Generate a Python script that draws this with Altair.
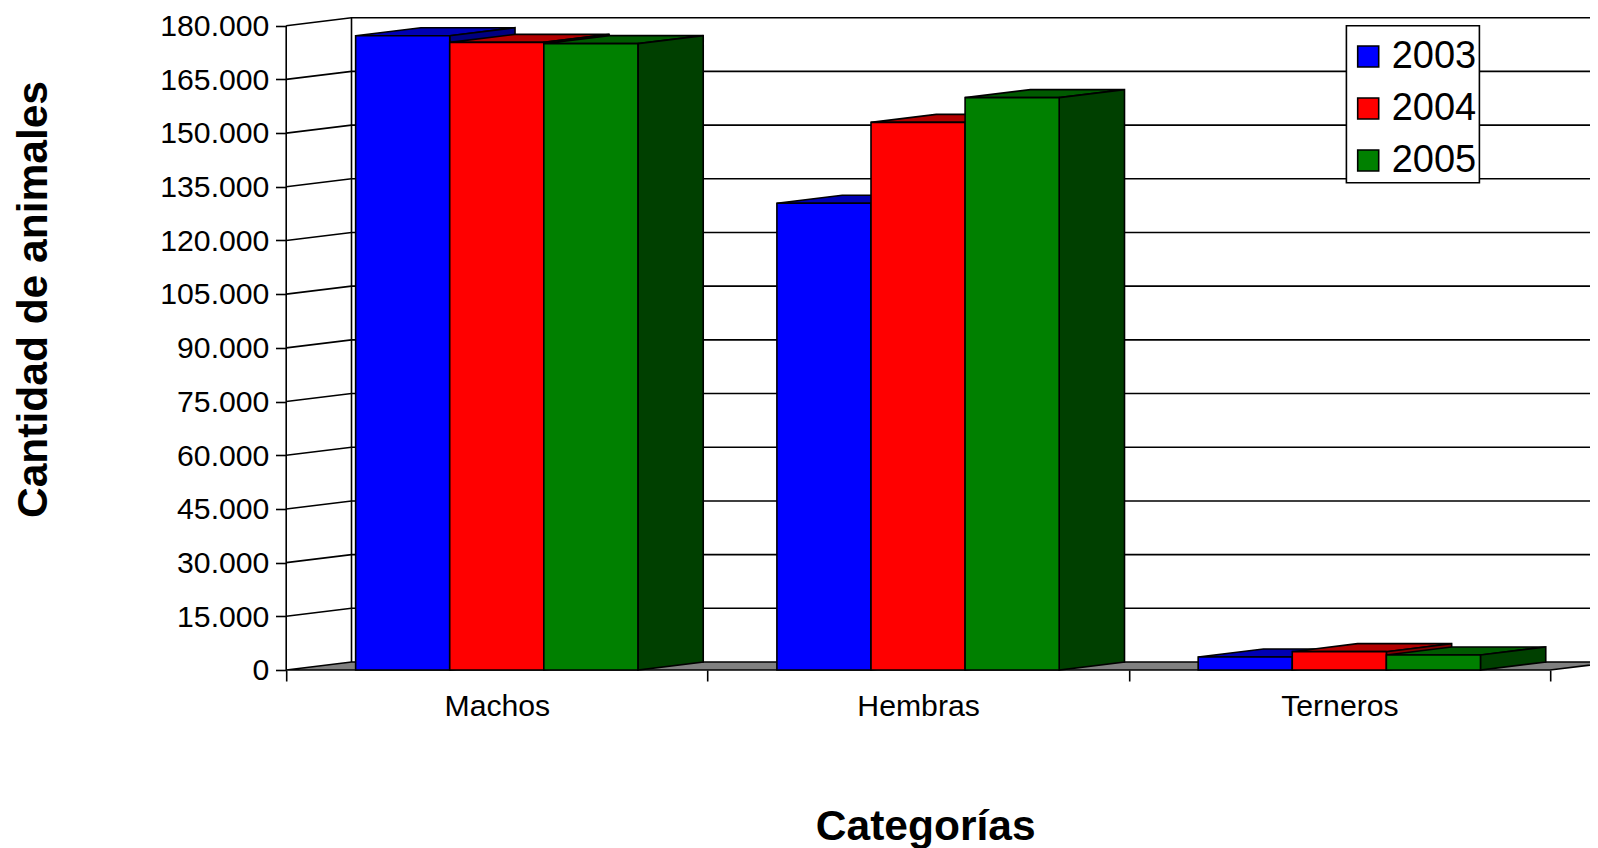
import altair as alt
import pandas as pd

categories = ["Machos", "Hembras", "Terneros"]
years = ["2003", "2004", "2005"]
v2003 = [177200, 130400, 3630]
v2004 = [175350, 153000, 5120]
v2005 = [174980, 159900, 4190]
y_ticks = list(range(0, 180001, 15000))
front_colors = ["#0000ff", "#ff0000", "#008000"]
top_colors = ["#0000b3", "#b30000", "#005a00"]
side_colors = ["#000080", "#800000", "#004000"]

# page geometry of the reference (px)
LEFT, TOP, BOTTOM, RIGHT = 286.2, 14.0, 670.0, 1590.0
W, H = RIGHT - LEFT, BOTTOM - TOP
CAT_W = 421.27
VAL_H = 644.3
XMAX = W / CAT_W
YMAX = H / VAL_H * 180000
DX = 65.3 / CAT_W      # depth of the 3D box in category units
DY = 8.0 / VAL_H * 180000
MARGIN = 0.1648
BAR = 94.1 / CAT_W
LW = 1.6
FONT = "Liberation Sans"

series = [v2003, v2004, v2005]
fronts, faces, walls = [], [], []
for s, yr in enumerate(years):
    for c, cat in enumerate(categories):
        v = series[s][c]
        x0 = c + MARGIN + s * BAR
        x1 = x0 + BAR
        fronts.append(dict(year=yr, x=x0, x2=x1, y=v, y2=0))
        k = f"{s}-{c}-top"
        for a, b, d in [(x0, v, v), (x0 + DX, v + DY, v), (x1, v + DY, v), (x1 + DX, v + DY, v + DY)]:
            faces.append(dict(k=k, x=a, y=b, y2=d, fill=top_colors[s]))
        k = f"{s}-{c}-side"
        for a, b, d in [(x1, v, 0), (x1 + DX, v + DY, DY)]:
            faces.append(dict(k=k, x=a, y=b, y2=d, fill=side_colors[s]))

floor = [dict(x=0, y=0, y2=0), dict(x=DX, y=DY, y2=0), dict(x=3, y=DY, y2=0), dict(x=3 + DX, y=DY, y2=DY)]

for t in y_ticks[1:]:
    for i, (a, b) in enumerate([(0, t), (DX, t + DY), (XMAX, t + DY)]):
        walls.append(dict(k=f"g{t}", i=i, x=a, y=b))
for i, (a, b) in enumerate([(0, 0), (0, 180000)]):
    walls.append(dict(k="front", i=i, x=a, y=b))
for i, (a, b) in enumerate([(DX, DY), (DX, 180000 + DY)]):
    walls.append(dict(k="back", i=i, x=a, y=b))

xs = alt.Scale(domain=[0, XMAX], nice=False, zero=False)
ys = alt.Scale(domain=[0, YMAX], nice=False, zero=False)

label_expr = ("datum.value == 0.5 ? '%s' : datum.value == 1.5 ? '%s' : datum.value == 2.5 ? '%s' : ''"
              % tuple(categories))
x_axis = alt.Axis(
    values=[0, 0.5, 1, 1.5, 2, 2.5, 3],
    labelExpr=label_expr,
    labelFont=FONT, labelFontSize=30.2, labelColor="black", labelPadding=10,
    labelOverlap=False, labelFlush=False,
    grid=False, domain=False, tickColor="black", tickWidth=LW, tickSize=11,
    tickOpacity={"condition": {"test": "datum.value % 1 == 0", "value": 1}, "value": 0},
    title="Categorías", titleFont=FONT, titleFontSize=42.5, titleFontWeight="bold", titleColor="black",
    titleX=639, titleY=169, titleBaseline="alphabetic", titleAlign="center",
)
y_axis = alt.Axis(
    values=y_ticks,
    labelExpr="replace(format(datum.value, ','), ',', '.')",
    labelFont=FONT, labelFontSize=30.2, labelColor="black", labelPadding=6.6, labelOffset=0.8,
    labelOverlap=False, labelFlush=False,
    grid=False, domain=False, tickColor="black", tickWidth=LW, tickSize=10.7,
    title="Cantidad de animales", titleFont=FONT, titleFontSize=42.5, titleFontWeight="bold", titleColor="black",
    titleX=-240, titleY=285, titleBaseline="alphabetic", titleAlign="center", titleAngle=-90,
)
X = alt.X("x:Q", scale=xs, axis=x_axis)
Y = alt.Y("y:Q", scale=ys, axis=y_axis, stack=None)

wall_lines = alt.Chart(pd.DataFrame(walls)).mark_line(color="black", strokeWidth=LW).encode(
    x=X, y=Y, detail="k:N", order="i:Q"
)
floor_layer = alt.Chart(pd.DataFrame(floor)).mark_area(
    fill="#808080", stroke="black", strokeWidth=LW, opacity=1
).encode(x=X, y=Y, y2="y2:Q")
face_layer = alt.Chart(pd.DataFrame(faces)).mark_area(stroke="black", strokeWidth=LW, opacity=1).encode(
    x=X, y=Y, y2="y2:Q", detail="k:N", fill=alt.Fill("fill:N", scale=None)
)
front_layer = alt.Chart(pd.DataFrame(fronts)).mark_rect(stroke="black", strokeWidth=LW, opacity=1).encode(
    x=X, x2="x2:Q", y=Y, y2="y2:Q",
    color=alt.Color(
        "year:N",
        scale=alt.Scale(domain=years, range=front_colors),
        legend=alt.Legend(
            title="\u00a0" * 54, titleFont=FONT, titleFontSize=9, titlePadding=0, titleLimit=400, orient="none",
            legendX=1060.2, legendY=11.7,
            fillColor="white", strokeColor="black", padding=2.8,
            symbolType="square", symbolSize=441, symbolStrokeColor="black", symbolStrokeWidth=LW,
            symbolOpacity=1, symbolOffset=0, labelOffset=4.5, labelFont=FONT, labelFontSize=38,
            labelColor="black", rowPadding=14, labelLimit=200,
        ),
    ),
)

chart = alt.layer(wall_lines, floor_layer, face_layer, front_layer).properties(
    width=W, height=H,
    padding={"left": LEFT - 8, "top": TOP - 8, "right": 0, "bottom": 848 - BOTTOM},
    autosize=alt.AutoSizeParams(type="none"),
    background="white",
).configure_view(stroke=None).configure_legend(strokeWidth=LW)

chart.save("out.html", embed_options={"renderer": "svg", "actions": False})
